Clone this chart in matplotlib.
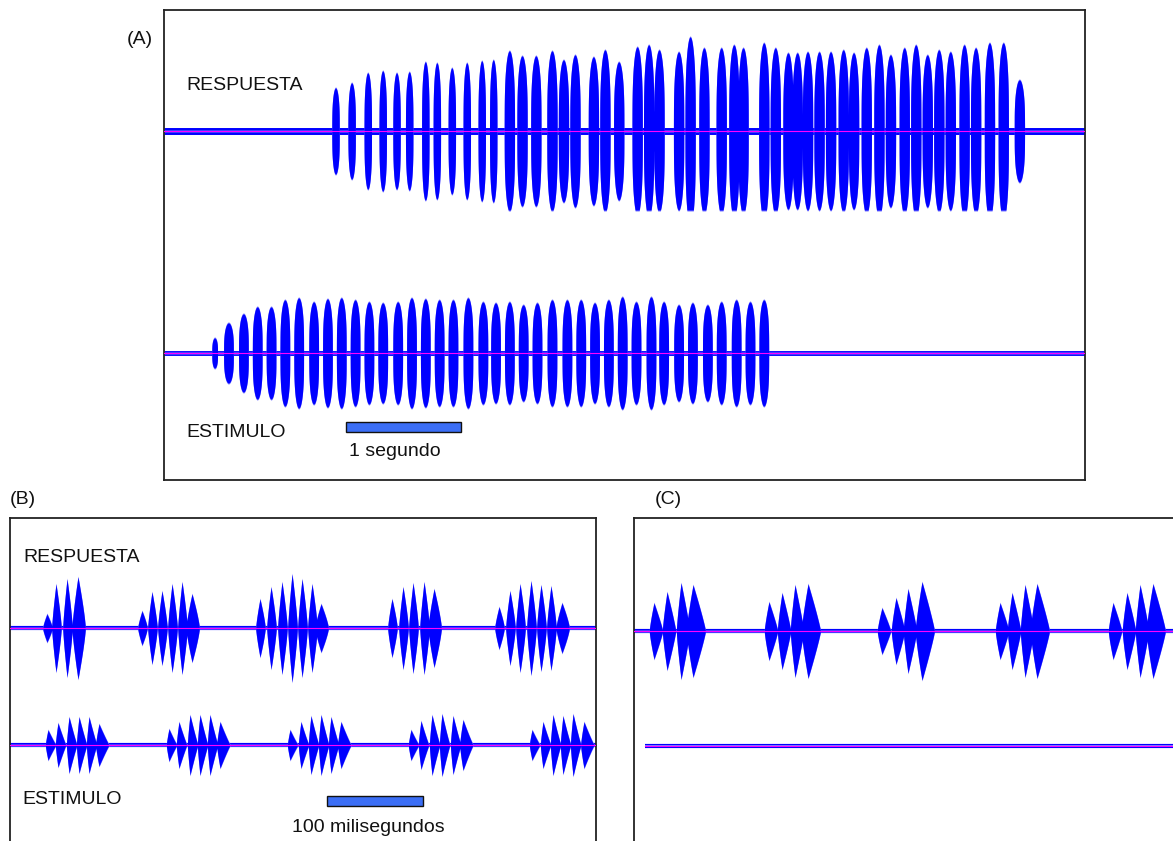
import numpy as np
import matplotlib
matplotlib.use("Agg")
import matplotlib.pyplot as plt
from matplotlib.patches import Rectangle

plt.rcParams['font.family'] = ['Liberation Sans', 'DejaVu Sans']

# ---- Panel A (time in s, amplitude in arbitrary units) ----
a_resp_times = [1.49, 1.63, 1.77, 1.90, 2.02, 2.13, 2.27, 2.37, 2.50, 2.63, 2.76, 2.86, 3.00,
                3.11, 3.23, 3.37, 3.47, 3.57, 3.73, 3.83, 3.95, 4.11, 4.21, 4.30, 4.47, 4.57,
                4.69, 4.84, 4.95, 5.03, 5.21, 5.31, 5.42, 5.50, 5.59, 5.69, 5.79, 5.90, 5.99,
                6.10, 6.21, 6.31, 6.43, 6.53, 6.63, 6.73, 6.83, 6.95, 7.05, 7.17, 7.29, 7.43]
a_resp_amps = [43, 48, 58, 60, 58, 59, 69, 68, 63, 68, 70, 71, 80, 75, 75, 80,
               71, 76, 74, 81, 69, 84, 86, 81, 79, 94, 83, 83, 86, 83, 88, 83, 78,
               78, 79, 79, 79, 81, 78, 83, 86, 76, 83, 86, 76, 81, 79, 86, 83, 88, 88, 51]
a_stim_times = [0.44, 0.56, 0.69, 0.81, 0.93, 1.05, 1.17, 1.30, 1.42, 1.54, 1.66, 1.78, 1.90,
                2.03, 2.15, 2.27, 2.39, 2.51, 2.64, 2.77, 2.88, 3.00, 3.12, 3.24, 3.37, 3.50,
                3.62, 3.74, 3.86, 3.98, 4.10, 4.23, 4.34, 4.47, 4.59, 4.72, 4.84, 4.97, 5.09, 5.21]
a_stim_amps = [15, 30, 39, 46, 46, 53, 55, 51, 54, 55, 53, 51, 50, 51, 55, 54, 53, 53, 55, 51,
               50, 51, 48, 50, 53, 53, 53, 50, 53, 56, 51, 56, 51, 48, 50, 48, 51, 53, 51, 53]

# ---- Panel B (time in ms) ----
b_resp_chirps = [
    ([38.5, 47.9, 59.4, 70.8], [14, 44, 49, 51]),
    ([137.5, 147.9, 158.3, 168.8, 179.2, 189.6], [17, 36, 37, 44, 46, 34]),
    ([260.4, 271.9, 283.3, 293.8, 304.2, 314.6, 324.0], [29, 41, 46, 54, 49, 44, 24]),
    ([397.9, 409.4, 419.8, 431.3, 441.7], [29, 41, 45, 46, 39]),
    ([509.4, 520.8, 531.3, 542.7, 553.1, 563.5, 575.0], [21, 37, 44, 47, 43, 42, 25]),
]
b_stim_chirps = [
    ([39.6, 50.0, 61.5, 71.9, 82.3, 92.7], [15, 22, 28, 28, 28, 21]),
    ([165.6, 176.0, 187.5, 197.9, 208.3, 218.8], [16, 23, 30, 30, 30, 23]),
    ([291.7, 303.1, 313.5, 324.0, 334.4, 344.8], [15, 23, 29, 30, 28, 23]),
    ([417.7, 428.1, 439.6, 450.0, 461.5, 471.9], [15, 24, 30, 31, 29, 25]),
    ([543.8, 555.2, 565.6, 576.0, 586.5, 597.9], [15, 23, 30, 29, 31, 23]),
]

# ---- Panel C (time in ms), no stimulus ----
c_resp_chirps = [
    ([20.8, 34.4, 49.0, 61.5], [28, 39, 48, 46]),
    ([140.6, 154.2, 167.7, 181.3], [29, 38, 46, 47]),
    ([258.3, 272.9, 285.4, 300.0], [23, 33, 42, 49]),
    ([381.3, 393.8, 407.3, 419.8], [28, 38, 46, 47]),
    ([499.0, 513.5, 527.1, 540.6], [28, 38, 46, 47]),
]

BLUE = '#0000ff'
MAGENTA = '#ff00ff'
BAR = '#3b6ef5'
W, H = 1173, 841


def pulse(t, center, width, amp, rise, p_up, p_down):
    start = center - rise * width
    u = (t - start) / width
    env = np.zeros_like(t)
    m1 = (u >= 0) & (u < rise)
    m2 = (u >= rise) & (u <= 1)
    env[m1] = amp * (u[m1] / rise) ** p_up
    env[m2] = amp * ((1 - u[m2]) / (1 - rise)) ** p_down
    return env


def block(t, center, width, amp):
    u = (t - center) / width + 0.5
    env = np.zeros_like(t)
    m = (u >= 0) & (u <= 1)
    env[m] = amp * np.sin(np.pi * u[m]) ** 0.3
    return env


def draw_trace(ax, t, env, base, low_clip=None, band=3.0):
    ax.plot([t[0], t[-1]], [base, base], color=BLUE, lw=band, solid_capstyle='butt', zorder=2)
    lo = env if low_clip is None else np.minimum(env, low_clip)
    ax.fill_between(t, base - lo - 1, base + env + 1, color='#7a7aff', lw=0, zorder=2)
    ax.fill_between(t, base - lo, base + env, color=BLUE, lw=0, zorder=3)
    ax.plot([t[0], t[-1]], [base, base], color=MAGENTA, lw=0.8, zorder=4)


def ax_at(x0, y0, x1, y1):
    ax = fig.add_axes([x0 / W, 1 - y1 / H, (x1 - x0) / W, (y1 - y0) / H])
    ax.set_xticks([])
    ax.set_yticks([])
    for s in ax.spines.values():
        s.set_color('#222222')
        s.set_linewidth(1.3)
    return ax


def label(x, y, s):
    fig.text(x / W, 1 - y / H, s, fontsize=14, ha='left', va='center', color='#111111')


fig = plt.figure(figsize=(W / 100, H / 100), dpi=100)

# ---------- Panel A ----------
axA = ax_at(164, 10, 1085, 480)
axA.set_xlim(0, 8.0)
axA.set_ylim(0, 470)
tA = np.linspace(0, 8.0, 16000)
env = np.zeros_like(tA)
for i, (c, a) in enumerate(zip(a_resp_times, a_resp_amps)):
    w = 0.065 if i < 12 else 0.09
    env = np.maximum(env, block(tA, c, w, a))
draw_trace(axA, tA, env, 349, low_clip=79, band=5)
env = np.zeros_like(tA)
for i, (c, a) in enumerate(zip(a_stim_times, a_stim_amps)):
    w = 0.05 if i == 0 else 0.085
    env = np.maximum(env, block(tA, c, w, a))
draw_trace(axA, tA, env, 127, band=3.5)
axA.add_patch(Rectangle((1.583, 48), 1.0, 10, facecolor=BAR, edgecolor='#111111', lw=1.0, zorder=5))

label(127, 40, '(A)')
label(186, 86, 'RESPUESTA')
label(186, 433, 'ESTIMULO')
label(349, 452, '1 segundo')

# ---------- Panel B ----------
axB = ax_at(10, 518, 596, 850)
xmaxB = 586 / 0.96
axB.set_xlim(0, xmaxB)
axB.set_ylim(0, 332)
tB = np.linspace(0, xmaxB, 12000)
env = np.zeros_like(tB)
for times, amps in b_resp_chirps:
    for j, (c, a) in enumerate(zip(times, amps)):
        w = 14.0 if j == len(times) - 1 else 10.0
        env = np.maximum(env, pulse(tB, c, w, a, 0.45, 0.8, 0.8))
draw_trace(axB, tB, env, 222, band=3)
env = np.zeros_like(tB)
for times, amps in b_stim_chirps:
    for j, (c, a) in enumerate(zip(times, amps)):
        w = 14.0 if j == len(times) - 1 else 11.0
        env = np.maximum(env, pulse(tB, c, w, a, 0.25, 0.8, 1.1))
draw_trace(axB, tB, env, 105, band=3)
axB.add_patch(Rectangle((330.2, 44), 100, 10, facecolor=BAR, edgecolor='#111111', lw=1.0, zorder=5))

label(10, 500, '(B)')
label(23, 557, 'RESPUESTA')
label(22, 799, 'ESTIMULO')
label(292, 828, '100 milisegundos')

# ---------- Panel C ----------
axC = ax_at(634, 518, 1180, 850)
xmaxC = 546 / 0.96
axC.set_xlim(0, xmaxC)
axC.set_ylim(0, 332)
tC = np.linspace(0, xmaxC, 12000)
env = np.zeros_like(tC)
for times, amps in c_resp_chirps:
    for j, (c, a) in enumerate(zip(times, amps)):
        w = 20.0 if j == len(times) - 1 else 14.0
        env = np.maximum(env, pulse(tC, c, w, a, 0.35, 0.8, 0.9))
draw_trace(axC, tC, env, 219, band=3)
tC2 = np.linspace(11 / 0.96, xmaxC, 10)
draw_trace(axC, tC2, np.zeros_like(tC2), 104, band=3)

label(655, 500, '(C)')

fig.savefig('out.png', dpi=100)
